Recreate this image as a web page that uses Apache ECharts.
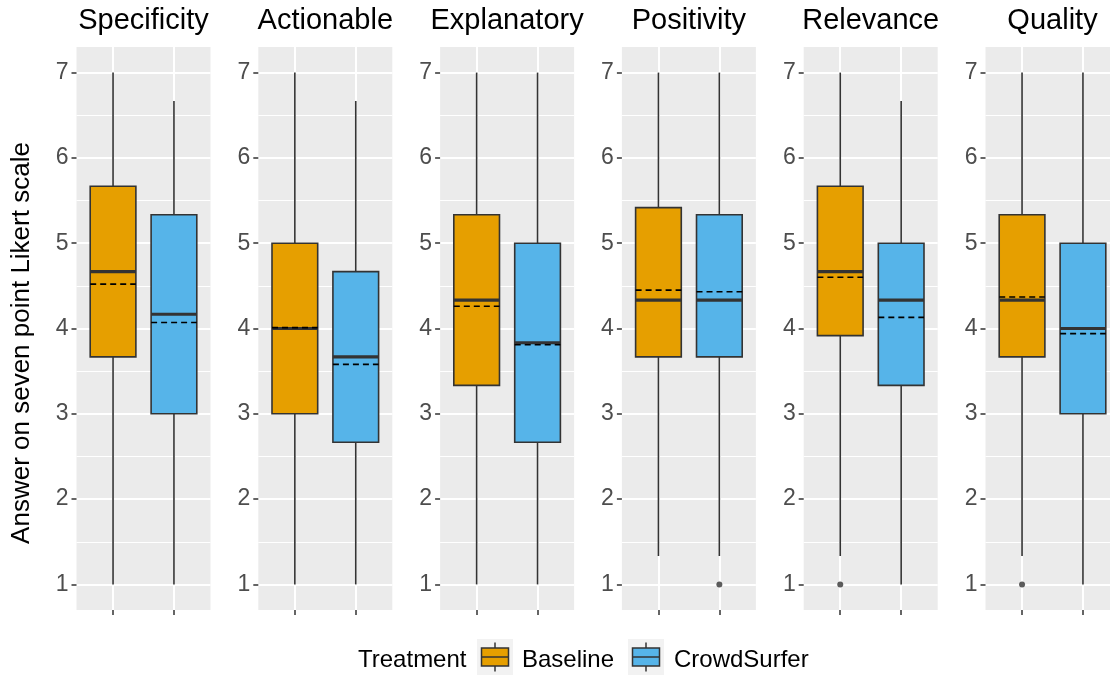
<!DOCTYPE html>
<html>
<head>
<meta charset="utf-8">
<script src="https://cdn.jsdelivr.net/npm/echarts@6/dist/echarts.min.js"></script>
<style>
  html, body { margin: 0; padding: 0; background: #ffffff; }
  #chart { width: 1110px; height: 678px; }
</style>
</head>
<body>
<div id="chart"></div>
<script>
// Facets (one panel per rated dimension) and the two treatments
const categories = ['Specificity', 'Actionable', 'Explanatory', 'Positivity', 'Relevance', 'Quality'];
const treatments = ['Baseline', 'CrowdSurfer'];
const yTicks = [1, 2, 3, 4, 5, 6, 7];

// Box statistics per facet, Baseline
const baselineLow    = [1, 1, 1, 1.333, 1.333, 1.333];
const baselineQ1     = [3.667, 3, 3.333, 3.667, 3.917, 3.667];
const baselineMedian = [4.667, 4, 4.333, 4.333, 4.667, 4.333];
const baselineQ3     = [5.667, 5, 5.333, 5.417, 5.667, 5.333];
const baselineHigh   = [7, 7, 7, 7, 7, 7];
const baselineMean   = [4.52, 4.01, 4.26, 4.45, 4.60, 4.37];
const baselineOutliers = [[], [], [], [], [1], [1]];

// Box statistics per facet, CrowdSurfer
const crowdLow    = [1, 1, 1, 1.333, 1, 1];
const crowdQ1     = [3, 2.667, 2.667, 3.667, 3.333, 3];
const crowdMedian = [4.167, 3.667, 3.833, 4.333, 4.333, 4];
const crowdQ3     = [5.333, 4.667, 5, 5.333, 5, 5];
const crowdHigh   = [6.667, 6.667, 7, 7, 6.667, 7];
const crowdMean   = [4.07, 3.58, 3.81, 4.43, 4.13, 3.94];
const crowdOutliers = [[], [], [], [1], [], []];

const treatmentColors = ['#E69F00', '#56B4E9'];
const FONT = '"Liberation Sans", Arial, sans-serif';

// Panel geometry
const PANEL_LEFT = 76.5, PANEL_STEP = 181.8, PANEL_W = 134;
const PANEL_TOP = 47, PANEL_H = 563;
const Y_MIN = yTicks[0], Y_MAX = yTicks[yTicks.length - 1];
const Y_PAD = 0.05 * (Y_MAX - Y_MIN);      // continuous-scale expansion
const X_PAD = 0.6;                          // discrete-scale expansion
const X_SPAN = 1 + 2 * X_PAD;
const BOX_WIDTH = 0.75;

const grids = [], xAxes = [], yAxes = [], series = [], graphic = [];

categories.forEach((cat, i) => {
  const L = PANEL_LEFT + i * PANEL_STEP;
  const base = i * 3;

  // panel background
  grids.push({ left: L, top: PANEL_TOP, width: PANEL_W, height: PANEL_H,
    show: true, backgroundColor: '#EBEBEB', borderWidth: 0, z: -1, outerBoundsMode: 'none' });
  xAxes.push({ gridIndex: base, type: 'value', min: 0, max: 1, show: false });
  yAxes.push({ gridIndex: base, type: 'value', min: 0, max: 1, show: false });

  // horizontal gridlines + y ticks (range 1..7)
  const yRange = Y_MAX - Y_MIN + 2 * Y_PAD;
  grids.push({ left: L, top: PANEL_TOP + PANEL_H * Y_PAD / yRange, width: PANEL_W,
    height: PANEL_H * (Y_MAX - Y_MIN) / yRange, show: false, outerBoundsMode: 'none' });
  xAxes.push({ gridIndex: base + 1, type: 'value', min: 0, max: 1, show: false });
  yAxes.push({
    gridIndex: base + 1, type: 'value', min: Y_MIN, max: Y_MAX, interval: 1,
    axisLine: { show: false },
    axisTick: { show: true, length: 5, lineStyle: { color: '#333333', width: 1.5 } },
    axisLabel: { color: '#4D4D4D', fontSize: 23, margin: 8, fontFamily: FONT },
    splitLine: { show: true, lineStyle: { color: '#ffffff', width: 2 } },
    minorTick: { show: false, splitNumber: 2 },
    minorSplitLine: { show: true, lineStyle: { color: '#ffffff', width: 1 } }
  });

  // boxes + vertical gridlines (x from 1 to 2)
  grids.push({ left: L + PANEL_W * X_PAD / X_SPAN, top: PANEL_TOP, width: PANEL_W / X_SPAN,
    height: PANEL_H, show: false, outerBoundsMode: 'none' });
  xAxes.push({
    gridIndex: base + 2, type: 'value', min: 1, max: 2, interval: 1,
    axisLine: { show: false },
    axisLabel: { show: false },
    axisTick: { show: true, length: 5, lineStyle: { color: '#333333', width: 1.5 } },
    splitLine: { show: true, lineStyle: { color: '#ffffff', width: 2 } }
  });
  yAxes.push({ gridIndex: base + 2, type: 'value', min: Y_MIN - Y_PAD, max: Y_MAX + Y_PAD, show: false });

  series.push({
    type: 'custom',
    name: cat,
    xAxisIndex: base + 2, yAxisIndex: base + 2,
    data: [
      [1, baselineLow[i], baselineQ1[i], baselineMedian[i], baselineQ3[i], baselineHigh[i], baselineMean[i]],
      [2, crowdLow[i], crowdQ1[i], crowdMedian[i], crowdQ3[i], crowdHigh[i], crowdMean[i]]
    ],
    encode: { x: 0, y: [1, 2, 3, 4, 5, 6] },
    renderItem: renderBox,
    silent: true
  });

  const outliers = [];
  baselineOutliers[i].forEach(v => outliers.push([1, v]));
  crowdOutliers[i].forEach(v => outliers.push([2, v]));
  series.push({
    type: 'scatter', name: cat + ' outliers',
    xAxisIndex: base + 2, yAxisIndex: base + 2,
    data: outliers, symbol: 'circle', symbolSize: 6,
    itemStyle: { color: '#333333' }, silent: true
  });

  // facet strip title
  graphic.push({
    type: 'text', x: L + PANEL_W / 2, y: 21,
    style: { text: cat, fontSize: 29, fontFamily: FONT, fill: '#000000',
      align: 'center', verticalAlign: 'middle', textAlign: 'center', textVerticalAlign: 'middle' }
  });
});

function renderBox(params, api) {
  const x = api.value(0);
  const pLow = api.coord([x, api.value(1)]);
  const pQ1 = api.coord([x, api.value(2)]);
  const pMed = api.coord([x, api.value(3)]);
  const pQ3 = api.coord([x, api.value(4)]);
  const pHigh = api.coord([x, api.value(5)]);
  const pMean = api.coord([x, api.value(6)]);
  const half = api.size([BOX_WIDTH, 0])[0] / 2;
  const edge = { stroke: '#333333', lineWidth: 1.6 };
  return {
    type: 'group',
    children: [
      { type: 'line', shape: { x1: pLow[0], y1: pLow[1], x2: pQ1[0], y2: pQ1[1] }, style: edge },
      { type: 'line', shape: { x1: pQ3[0], y1: pQ3[1], x2: pHigh[0], y2: pHigh[1] }, style: edge },
      { type: 'rect', shape: { x: pQ3[0] - half, y: pQ3[1], width: 2 * half, height: pQ1[1] - pQ3[1] },
        style: { fill: treatmentColors[params.dataIndex], stroke: '#333333', lineWidth: 1.6 } },
      { type: 'line', shape: { x1: pMed[0] - half, y1: pMed[1], x2: pMed[0] + half, y2: pMed[1] },
        style: { stroke: '#333333', lineWidth: 3.2 } },
      { type: 'line', shape: { x1: pMean[0] - half, y1: pMean[1], x2: pMean[0] + half, y2: pMean[1] },
        style: { stroke: '#000000', lineWidth: 1.6, lineDash: [6, 4] } }
    ]
  };
}

// y-axis title, centred on the panels
graphic.push({
  type: 'text', x: 22, y: 343, rotation: Math.PI / 2,
  style: { text: 'Answer on seven point Likert scale', fontSize: 26, fontFamily: FONT, fill: '#000000',
    align: 'center', verticalAlign: 'middle', textAlign: 'center', textVerticalAlign: 'middle' }
});

// Legend drawn as boxplot keys
function legendKey(left, top, size, color) {
  return {
    type: 'group', x: left, y: top,
    children: [
      { type: 'rect', shape: { x: 0, y: 0, width: size, height: size }, style: { fill: '#F2F2F2' } },
      { type: 'line', shape: { x1: size / 2, y1: size * 0.1, x2: size / 2, y2: size * 0.9 },
        style: { stroke: '#333333', lineWidth: 1.5 } },
      { type: 'rect', shape: { x: size * 0.125, y: size * 0.25, width: size * 0.75, height: size * 0.5 },
        style: { fill: color, stroke: '#333333', lineWidth: 1.5 } },
      { type: 'line', shape: { x1: size * 0.125, y1: size / 2, x2: size * 0.875, y2: size / 2 },
        style: { stroke: '#333333', lineWidth: 1.5 } }
    ]
  };
}
const LEGEND_Y = 657;
const legendText = (txt, x) => ({
  type: 'text', x: x, y: LEGEND_Y + 3,
  style: { text: txt, fontSize: 24, fontFamily: FONT, fill: '#000000', verticalAlign: 'middle', textVerticalAlign: 'middle' }
});
graphic.push(
  legendText('Treatment', 358),
  legendKey(477, LEGEND_Y - 18, 36, treatmentColors[0]),
  legendText(treatments[0], 522),
  legendKey(628, LEGEND_Y - 18, 36, treatmentColors[1]),
  legendText(treatments[1], 674)
);

const chart = echarts.init(document.getElementById('chart'), null, { renderer: 'canvas' });
chart.setOption({
  animation: false,
  backgroundColor: '#ffffff',
  textStyle: { fontFamily: FONT },
  grid: grids,
  xAxis: xAxes,
  yAxis: yAxes,
  series: series,
  graphic: graphic
});
</script>
</body>
</html>
